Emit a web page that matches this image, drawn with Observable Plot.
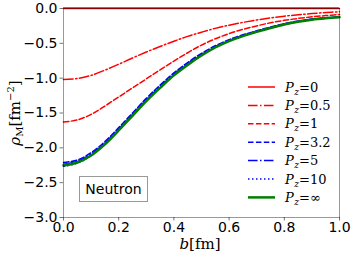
<!DOCTYPE html>
<html>
<head>
<meta charset="utf-8">
<script src="https://cdn.jsdelivr.net/npm/d3@7"></script>
<script src="https://cdn.jsdelivr.net/npm/@observablehq/plot@0.6"></script>
<style>
  body { margin: 0; background: #fff; }
  #chart { width: 354px; height: 257px; }
</style>
</head>
<body>
<div id="chart"></div>
<script>
// ---- data ----
const bValues = [0,0.05,0.1,0.15,0.2,0.25,0.3,0.35,0.4,0.45,0.5,0.55,0.6,0.65,0.7,0.75,0.8,0.85,0.9,0.95,1.0];
const pz0   = [0,0,0,0,0,0,0,0,0,0,0,0,0,0,0,0,0,0,0,0,0];
const pz05  = [-1.02,-1.005,-0.96,-0.885,-0.80,-0.71,-0.625,-0.545,-0.47,-0.40,-0.34,-0.285,-0.24,-0.20,-0.165,-0.135,-0.11,-0.09,-0.073,-0.058,-0.047];
const pz1   = [-1.63,-1.60,-1.52,-1.40,-1.27,-1.14,-1.01,-0.88,-0.755,-0.635,-0.525,-0.435,-0.36,-0.30,-0.25,-0.205,-0.17,-0.143,-0.12,-0.102,-0.087];
const pz32  = [-2.21,-2.175,-2.07,-1.91,-1.71,-1.50,-1.29,-1.10,-0.925,-0.775,-0.645,-0.535,-0.447,-0.378,-0.32,-0.266,-0.218,-0.18,-0.152,-0.133,-0.118];
const pz5   = [-2.235,-2.195,-2.09,-1.93,-1.73,-1.52,-1.31,-1.12,-0.943,-0.793,-0.66,-0.548,-0.458,-0.387,-0.328,-0.273,-0.224,-0.185,-0.156,-0.137,-0.122];
const pz10  = [-2.265,-2.22,-2.11,-1.945,-1.745,-1.535,-1.325,-1.135,-0.955,-0.805,-0.67,-0.556,-0.465,-0.393,-0.333,-0.278,-0.228,-0.188,-0.159,-0.139,-0.124];
const pzInf = [-2.25,-2.21,-2.11,-1.95,-1.75,-1.54,-1.33,-1.14,-0.96,-0.81,-0.675,-0.56,-0.468,-0.396,-0.336,-0.28,-0.23,-0.19,-0.16,-0.14,-0.125];
const pzLabels = ["0","0.5","1","3.2","5","10","\u221E"];
const xTicks = [0,0.2,0.4,0.6,0.8,1.0];
const yTicks = [0,-0.5,-1.0,-1.5,-2.0,-2.5,-3.0];
const panelLabel = "Neutron";

// styles per series
const seriesValues = [pz0, pz05, pz1, pz32, pz5, pz10, pzInf];
const styles = [
  {stroke: "#ff0000", width: 1.5, dash: null},
  {stroke: "#ff0000", width: 1.5, dash: "9.6,2.4,1.5,2.4"},
  {stroke: "#ff0000", width: 1.5, dash: "5.5,2.4"},
  {stroke: "#0000ff", width: 1.5, dash: "5.5,2.4"},
  {stroke: "#0000ff", width: 1.5, dash: "9.6,2.4,1.5,2.4"},
  {stroke: "#0000ff", width: 1.5, dash: "1.5,2.5"},
  {stroke: "#008000", width: 2.5, dash: null}
];

const lineMarks = seriesValues.map((vals, i) => {
  const rows = bValues.map((b, j) => ({b, v: vals[j]}));
  const s = styles[i];
  return Plot.line(rows, {x: "b", y: "v", stroke: s.stroke, strokeWidth: s.width,
    strokeDasharray: s.dash ?? undefined, curve: "catmull-rom"});
});

const fmt = d3.format(".1f");
const chart = Plot.plot({
  width: 354, height: 257,
  marginLeft: 63, marginRight: 15, marginTop: 8, marginBottom: 40,
  style: {fontFamily: "DejaVu Sans, sans-serif", fontSize: "14px", background: "#fff", color: "black"},
  x: {domain: [0, 1]},
  y: {domain: [-3, 0]},
  marks: [
    Plot.axisX({ticks: xTicks, tickFormat: fmt, tickSize: 3.5, tickPadding: 1, label: null, stroke: "#777", fontSize: 14}),
    Plot.axisY({ticks: yTicks, tickFormat: fmt, tickSize: 3.5, tickPadding: 2.5, label: null, stroke: "#777", fontSize: 14}),
    ...lineMarks,
    Plot.frame({stroke: "black", strokeOpacity: 0.4, strokeWidth: 1})
  ]
});
document.getElementById("chart").appendChild(chart);

// ---- annotations: axis labels, legend, panel label ----
const svg = d3.select(chart);
const serif = "DejaVu Serif, serif";

// dark overlay on the top spine (data line at 0 meets the frame)
svg.append("line").attr("x1", 63).attr("x2", 339).attr("y1", 8).attr("y2", 8)
  .attr("stroke", "#800000").attr("stroke-width", 1);

// y label
const yl = svg.append("text")
  .attr("transform", "translate(20,113) rotate(-90)")
  .attr("text-anchor", "middle")
  .attr("font-family", serif).attr("font-size", 15).attr("fill", "black");
yl.append("tspan").attr("font-style", "italic").text("\u03C1");
yl.append("tspan").attr("font-size", 10).attr("dy", 3).text("M");
yl.append("tspan").attr("dy", -3).text("[fm");
yl.append("tspan").attr("font-size", 10).attr("dy", -6).text("\u22122");
yl.append("tspan").attr("dy", 6).text("]");

// x label
const xl = svg.append("text")
  .attr("x", 200).attr("y", 249)
  .attr("text-anchor", "middle")
  .attr("font-family", serif).attr("font-size", 15).attr("fill", "black");
xl.append("tspan").attr("font-style", "italic").text("b");
xl.append("tspan").text("[fm]");

// legend
const lg = svg.append("g");
pzLabels.forEach((lab, i) => {
  const y = 87 + i * 18.4;
  const s = styles[i];
  lg.append("line").attr("x1", 248).attr("x2", 275).attr("y1", y).attr("y2", y)
    .attr("stroke", s.stroke).attr("stroke-width", s.width)
    .attr("stroke-dasharray", s.dash);
  const t = lg.append("text").attr("x", 285).attr("y", y + 4.5)
    .attr("text-anchor", "start")
    .attr("font-family", serif).attr("font-size", 13).attr("fill", "black");
  t.append("tspan").attr("font-style", "italic").text("P");
  t.append("tspan").attr("font-style", "italic").attr("font-size", 9).attr("dx", 0.5).attr("dy", 3).text("z");
  t.append("tspan").attr("dy", -3).text("=" + lab);
});

// panel label box
svg.append("rect").attr("x", 79.5).attr("y", 176.5).attr("width", 68).attr("height", 25)
  .attr("fill", "white").attr("stroke", "#999").attr("stroke-width", 1);
svg.append("text").attr("x", 113.5).attr("y", 194)
  .attr("text-anchor", "middle").attr("font-family", "DejaVu Sans, sans-serif")
  .attr("font-size", 14).attr("fill", "black").text(panelLabel);
</script>
</body>
</html>
